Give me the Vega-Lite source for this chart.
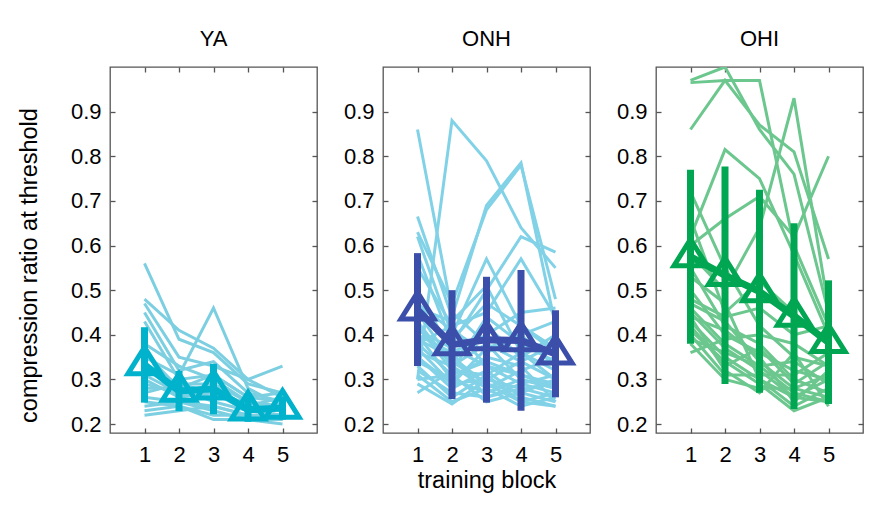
{
"$schema":"https://vega.github.io/schema/vega-lite/v6.json",
"background":"white",
"padding":{"left":16,"top":27,"right":5,"bottom":5},
"config":{
 "view":{"stroke":"#555","strokeWidth":1.3},
 "font":"Liberation Sans",
 "axis":{"labelFont":"Liberation Sans","labelFontSize":22,"labelColor":"black","tickColor":"#555","tickWidth":1.3,"domain":false,"grid":false,"titleFont":"Liberation Sans","titleFontSize":23.5,"titleFontWeight":"normal","titleColor":"black"},
 "title":{"font":"Liberation Sans","fontSize":22,"fontWeight":"normal","color":"black","offset":15}
},
"datasets":{
"indiv":[
{"g":"YA","s":1,"b":1,"r":0.56},{"g":"YA","s":1,"b":2,"r":0.39},{"g":"YA","s":1,"b":3,"r":0.36},{"g":"YA","s":1,"b":4,"r":0.29},{"g":"YA","s":1,"b":5,"r":0.27},
{"g":"YA","s":2,"b":1,"r":0.48},{"g":"YA","s":2,"b":2,"r":0.41},{"g":"YA","s":2,"b":3,"r":0.37},{"g":"YA","s":2,"b":4,"r":0.30},{"g":"YA","s":2,"b":5,"r":0.26},
{"g":"YA","s":3,"b":1,"r":0.47},{"g":"YA","s":3,"b":2,"r":0.35},{"g":"YA","s":3,"b":3,"r":0.33},{"g":"YA","s":3,"b":4,"r":0.30},{"g":"YA","s":3,"b":5,"r":0.33},
{"g":"YA","s":4,"b":1,"r":0.45},{"g":"YA","s":4,"b":2,"r":0.32},{"g":"YA","s":4,"b":3,"r":0.34},{"g":"YA","s":4,"b":4,"r":0.27},{"g":"YA","s":4,"b":5,"r":0.25},
{"g":"YA","s":5,"b":1,"r":0.43},{"g":"YA","s":5,"b":2,"r":0.30},{"g":"YA","s":5,"b":3,"r":0.31},{"g":"YA","s":5,"b":4,"r":0.26},{"g":"YA","s":5,"b":5,"r":0.27},
{"g":"YA","s":6,"b":1,"r":0.38},{"g":"YA","s":6,"b":2,"r":0.33},{"g":"YA","s":6,"b":3,"r":0.30},{"g":"YA","s":6,"b":4,"r":0.25},{"g":"YA","s":6,"b":5,"r":0.24},
{"g":"YA","s":7,"b":1,"r":0.35},{"g":"YA","s":7,"b":2,"r":0.31},{"g":"YA","s":7,"b":3,"r":0.46},{"g":"YA","s":7,"b":4,"r":0.28},{"g":"YA","s":7,"b":5,"r":0.24},
{"g":"YA","s":8,"b":1,"r":0.33},{"g":"YA","s":8,"b":2,"r":0.29},{"g":"YA","s":8,"b":3,"r":0.29},{"g":"YA","s":8,"b":4,"r":0.25},{"g":"YA","s":8,"b":5,"r":0.23},
{"g":"YA","s":9,"b":1,"r":0.31},{"g":"YA","s":9,"b":2,"r":0.27},{"g":"YA","s":9,"b":3,"r":0.28},{"g":"YA","s":9,"b":4,"r":0.24},{"g":"YA","s":9,"b":5,"r":0.23},
{"g":"YA","s":10,"b":1,"r":0.30},{"g":"YA","s":10,"b":2,"r":0.26},{"g":"YA","s":10,"b":3,"r":0.27},{"g":"YA","s":10,"b":4,"r":0.23},{"g":"YA","s":10,"b":5,"r":0.22},
{"g":"YA","s":11,"b":1,"r":0.28},{"g":"YA","s":11,"b":2,"r":0.28},{"g":"YA","s":11,"b":3,"r":0.25},{"g":"YA","s":11,"b":4,"r":0.23},{"g":"YA","s":11,"b":5,"r":0.22},
{"g":"YA","s":12,"b":1,"r":0.26},{"g":"YA","s":12,"b":2,"r":0.25},{"g":"YA","s":12,"b":3,"r":0.24},{"g":"YA","s":12,"b":4,"r":0.22},{"g":"YA","s":12,"b":5,"r":0.21},
{"g":"YA","s":13,"b":1,"r":0.25},{"g":"YA","s":13,"b":2,"r":0.24},{"g":"YA","s":13,"b":3,"r":0.22},{"g":"YA","s":13,"b":4,"r":0.22},{"g":"YA","s":13,"b":5,"r":0.21},
{"g":"YA","s":14,"b":1,"r":0.24},{"g":"YA","s":14,"b":2,"r":0.25},{"g":"YA","s":14,"b":3,"r":0.23},{"g":"YA","s":14,"b":4,"r":0.21},{"g":"YA","s":14,"b":5,"r":0.21},
{"g":"YA","s":15,"b":1,"r":0.23},{"g":"YA","s":15,"b":2,"r":0.24},{"g":"YA","s":15,"b":3,"r":0.21},{"g":"YA","s":15,"b":4,"r":0.21},{"g":"YA","s":15,"b":5,"r":0.20},
{"g":"YA","s":16,"b":1,"r":0.22},{"g":"YA","s":16,"b":2,"r":0.23},{"g":"YA","s":16,"b":3,"r":0.24},{"g":"YA","s":16,"b":4,"r":0.22},{"g":"YA","s":16,"b":5,"r":0.22},
{"g":"YA","s":17,"b":1,"r":0.36},{"g":"YA","s":17,"b":2,"r":0.28},{"g":"YA","s":17,"b":3,"r":0.31},{"g":"YA","s":17,"b":4,"r":0.26},{"g":"YA","s":17,"b":5,"r":0.25},
{"g":"YA","s":18,"b":1,"r":0.34},{"g":"YA","s":18,"b":2,"r":0.26},{"g":"YA","s":18,"b":3,"r":0.28},{"g":"YA","s":18,"b":4,"r":0.24},{"g":"YA","s":18,"b":5,"r":0.26},
{"g":"YA","s":19,"b":1,"r":0.29},{"g":"YA","s":19,"b":2,"r":0.27},{"g":"YA","s":19,"b":3,"r":0.26},{"g":"YA","s":19,"b":4,"r":0.25},{"g":"YA","s":19,"b":5,"r":0.23},
{"g":"YA","s":20,"b":1,"r":0.27},{"g":"YA","s":20,"b":2,"r":0.29},{"g":"YA","s":20,"b":3,"r":0.27},{"g":"YA","s":20,"b":4,"r":0.23},{"g":"YA","s":20,"b":5,"r":0.24},
{"g":"ONH","s":1,"b":1,"r":0.86},{"g":"ONH","s":1,"b":2,"r":0.45},{"g":"ONH","s":1,"b":3,"r":0.38},{"g":"ONH","s":1,"b":4,"r":0.34},{"g":"ONH","s":1,"b":5,"r":0.30},
{"g":"ONH","s":2,"b":1,"r":0.30},{"g":"ONH","s":2,"b":2,"r":0.88},{"g":"ONH","s":2,"b":3,"r":0.79},{"g":"ONH","s":2,"b":4,"r":0.64},{"g":"ONH","s":2,"b":5,"r":0.55},
{"g":"ONH","s":3,"b":1,"r":0.665},{"g":"ONH","s":3,"b":2,"r":0.44},{"g":"ONH","s":3,"b":3,"r":0.69},{"g":"ONH","s":3,"b":4,"r":0.785},{"g":"ONH","s":3,"b":5,"r":0.42},
{"g":"ONH","s":4,"b":1,"r":0.63},{"g":"ONH","s":4,"b":2,"r":0.47},{"g":"ONH","s":4,"b":3,"r":0.68},{"g":"ONH","s":4,"b":4,"r":0.78},{"g":"ONH","s":4,"b":5,"r":0.48},
{"g":"ONH","s":5,"b":1,"r":0.62},{"g":"ONH","s":5,"b":2,"r":0.40},{"g":"ONH","s":5,"b":3,"r":0.57},{"g":"ONH","s":5,"b":4,"r":0.42},{"g":"ONH","s":5,"b":5,"r":0.36},
{"g":"ONH","s":6,"b":1,"r":0.58},{"g":"ONH","s":6,"b":2,"r":0.38},{"g":"ONH","s":6,"b":3,"r":0.50},{"g":"ONH","s":6,"b":4,"r":0.62},{"g":"ONH","s":6,"b":5,"r":0.585},
{"g":"ONH","s":7,"b":1,"r":0.55},{"g":"ONH","s":7,"b":2,"r":0.42},{"g":"ONH","s":7,"b":3,"r":0.45},{"g":"ONH","s":7,"b":4,"r":0.57},{"g":"ONH","s":7,"b":5,"r":0.44},
{"g":"ONH","s":8,"b":1,"r":0.50},{"g":"ONH","s":8,"b":2,"r":0.36},{"g":"ONH","s":8,"b":3,"r":0.40},{"g":"ONH","s":8,"b":4,"r":0.45},{"g":"ONH","s":8,"b":5,"r":0.46},
{"g":"ONH","s":9,"b":1,"r":0.47},{"g":"ONH","s":9,"b":2,"r":0.41},{"g":"ONH","s":9,"b":3,"r":0.36},{"g":"ONH","s":9,"b":4,"r":0.40},{"g":"ONH","s":9,"b":5,"r":0.33},
{"g":"ONH","s":10,"b":1,"r":0.45},{"g":"ONH","s":10,"b":2,"r":0.34},{"g":"ONH","s":10,"b":3,"r":0.42},{"g":"ONH","s":10,"b":4,"r":0.35},{"g":"ONH","s":10,"b":5,"r":0.40},
{"g":"ONH","s":11,"b":1,"r":0.43},{"g":"ONH","s":11,"b":2,"r":0.33},{"g":"ONH","s":11,"b":3,"r":0.38},{"g":"ONH","s":11,"b":4,"r":0.30},{"g":"ONH","s":11,"b":5,"r":0.28},
{"g":"ONH","s":12,"b":1,"r":0.42},{"g":"ONH","s":12,"b":2,"r":0.32},{"g":"ONH","s":12,"b":3,"r":0.31},{"g":"ONH","s":12,"b":4,"r":0.36},{"g":"ONH","s":12,"b":5,"r":0.30},
{"g":"ONH","s":13,"b":1,"r":0.41},{"g":"ONH","s":13,"b":2,"r":0.37},{"g":"ONH","s":13,"b":3,"r":0.33},{"g":"ONH","s":13,"b":4,"r":0.29},{"g":"ONH","s":13,"b":5,"r":0.27},
{"g":"ONH","s":14,"b":1,"r":0.40},{"g":"ONH","s":14,"b":2,"r":0.30},{"g":"ONH","s":14,"b":3,"r":0.35},{"g":"ONH","s":14,"b":4,"r":0.33},{"g":"ONH","s":14,"b":5,"r":0.25},
{"g":"ONH","s":15,"b":1,"r":0.39},{"g":"ONH","s":15,"b":2,"r":0.35},{"g":"ONH","s":15,"b":3,"r":0.29},{"g":"ONH","s":15,"b":4,"r":0.27},{"g":"ONH","s":15,"b":5,"r":0.30},
{"g":"ONH","s":16,"b":1,"r":0.38},{"g":"ONH","s":16,"b":2,"r":0.31},{"g":"ONH","s":16,"b":3,"r":0.34},{"g":"ONH","s":16,"b":4,"r":0.31},{"g":"ONH","s":16,"b":5,"r":0.29},
{"g":"ONH","s":17,"b":1,"r":0.37},{"g":"ONH","s":17,"b":2,"r":0.29},{"g":"ONH","s":17,"b":3,"r":0.30},{"g":"ONH","s":17,"b":4,"r":0.28},{"g":"ONH","s":17,"b":5,"r":0.26},
{"g":"ONH","s":18,"b":1,"r":0.36},{"g":"ONH","s":18,"b":2,"r":0.33},{"g":"ONH","s":18,"b":3,"r":0.28},{"g":"ONH","s":18,"b":4,"r":0.32},{"g":"ONH","s":18,"b":5,"r":0.35},
{"g":"ONH","s":19,"b":1,"r":0.35},{"g":"ONH","s":19,"b":2,"r":0.28},{"g":"ONH","s":19,"b":3,"r":0.32},{"g":"ONH","s":19,"b":4,"r":0.26},{"g":"ONH","s":19,"b":5,"r":0.24},
{"g":"ONH","s":20,"b":1,"r":0.34},{"g":"ONH","s":20,"b":2,"r":0.30},{"g":"ONH","s":20,"b":3,"r":0.27},{"g":"ONH","s":20,"b":4,"r":0.30},{"g":"ONH","s":20,"b":5,"r":0.28},
{"g":"ONH","s":21,"b":1,"r":0.33},{"g":"ONH","s":21,"b":2,"r":0.26},{"g":"ONH","s":21,"b":3,"r":0.31},{"g":"ONH","s":21,"b":4,"r":0.25},{"g":"ONH","s":21,"b":5,"r":0.27},
{"g":"ONH","s":22,"b":1,"r":0.32},{"g":"ONH","s":22,"b":2,"r":0.27},{"g":"ONH","s":22,"b":3,"r":0.26},{"g":"ONH","s":22,"b":4,"r":0.29},{"g":"ONH","s":22,"b":5,"r":0.31},
{"g":"ONH","s":23,"b":1,"r":0.31},{"g":"ONH","s":23,"b":2,"r":0.25},{"g":"ONH","s":23,"b":3,"r":0.28},{"g":"ONH","s":23,"b":4,"r":0.24},{"g":"ONH","s":23,"b":5,"r":0.26},
{"g":"ONH","s":24,"b":1,"r":0.30},{"g":"ONH","s":24,"b":2,"r":0.31},{"g":"ONH","s":24,"b":3,"r":0.25},{"g":"ONH","s":24,"b":4,"r":0.27},{"g":"ONH","s":24,"b":5,"r":0.25},
{"g":"ONH","s":25,"b":1,"r":0.29},{"g":"ONH","s":25,"b":2,"r":0.245},{"g":"ONH","s":25,"b":3,"r":0.30},{"g":"ONH","s":25,"b":4,"r":0.34},{"g":"ONH","s":25,"b":5,"r":0.38},
{"g":"ONH","s":26,"b":1,"r":0.27},{"g":"ONH","s":26,"b":2,"r":0.32},{"g":"ONH","s":26,"b":3,"r":0.44},{"g":"ONH","s":26,"b":4,"r":0.38},{"g":"ONH","s":26,"b":5,"r":0.34},
{"g":"ONH","s":27,"b":1,"r":0.44},{"g":"ONH","s":27,"b":2,"r":0.39},{"g":"ONH","s":27,"b":3,"r":0.47},{"g":"ONH","s":27,"b":4,"r":0.42},{"g":"ONH","s":27,"b":5,"r":0.37},
{"g":"ONH","s":28,"b":1,"r":0.46},{"g":"ONH","s":28,"b":2,"r":0.43},{"g":"ONH","s":28,"b":3,"r":0.51},{"g":"ONH","s":28,"b":4,"r":0.36},{"g":"ONH","s":28,"b":5,"r":0.32},
{"g":"ONH","s":29,"b":1,"r":0.40},{"g":"ONH","s":29,"b":2,"r":0.36},{"g":"ONH","s":29,"b":3,"r":0.26},{"g":"ONH","s":29,"b":4,"r":0.28},{"g":"ONH","s":29,"b":5,"r":0.29},
{"g":"ONH","s":30,"b":1,"r":0.35},{"g":"ONH","s":30,"b":2,"r":0.29},{"g":"ONH","s":30,"b":3,"r":0.37},{"g":"ONH","s":30,"b":4,"r":0.40},{"g":"ONH","s":30,"b":5,"r":0.43},
{"g":"ONH","s":31,"b":1,"r":0.42},{"g":"ONH","s":31,"b":2,"r":0.34},{"g":"ONH","s":31,"b":3,"r":0.29},{"g":"ONH","s":31,"b":4,"r":0.25},{"g":"ONH","s":31,"b":5,"r":0.24},
{"g":"ONH","s":32,"b":1,"r":0.38},{"g":"ONH","s":32,"b":2,"r":0.42},{"g":"ONH","s":32,"b":3,"r":0.33},{"g":"ONH","s":32,"b":4,"r":0.31},{"g":"ONH","s":32,"b":5,"r":0.28},
{"g":"OHI","s":1,"b":1,"r":0.97},{"g":"OHI","s":1,"b":2,"r":1.0},{"g":"OHI","s":1,"b":3,"r":0.86},{"g":"OHI","s":1,"b":4,"r":0.76},{"g":"OHI","s":1,"b":5,"r":0.45},
{"g":"OHI","s":2,"b":1,"r":0.965},{"g":"OHI","s":2,"b":2,"r":0.97},{"g":"OHI","s":2,"b":3,"r":0.97},{"g":"OHI","s":2,"b":4,"r":0.60},{"g":"OHI","s":2,"b":5,"r":0.42},
{"g":"OHI","s":3,"b":1,"r":0.86},{"g":"OHI","s":3,"b":2,"r":0.97},{"g":"OHI","s":3,"b":3,"r":0.87},{"g":"OHI","s":3,"b":4,"r":0.81},{"g":"OHI","s":3,"b":5,"r":0.57},
{"g":"OHI","s":4,"b":1,"r":0.62},{"g":"OHI","s":4,"b":2,"r":0.815},{"g":"OHI","s":4,"b":3,"r":0.75},{"g":"OHI","s":4,"b":4,"r":0.58},{"g":"OHI","s":4,"b":5,"r":0.40},
{"g":"OHI","s":5,"b":1,"r":0.60},{"g":"OHI","s":5,"b":2,"r":0.66},{"g":"OHI","s":5,"b":3,"r":0.71},{"g":"OHI","s":5,"b":4,"r":0.62},{"g":"OHI","s":5,"b":5,"r":0.80},
{"g":"OHI","s":6,"b":1,"r":0.58},{"g":"OHI","s":6,"b":2,"r":0.50},{"g":"OHI","s":6,"b":3,"r":0.64},{"g":"OHI","s":6,"b":4,"r":0.93},{"g":"OHI","s":6,"b":5,"r":0.46},
{"g":"OHI","s":7,"b":1,"r":0.72},{"g":"OHI","s":7,"b":2,"r":0.55},{"g":"OHI","s":7,"b":3,"r":0.42},{"g":"OHI","s":7,"b":4,"r":0.35},{"g":"OHI","s":7,"b":5,"r":0.33},
{"g":"OHI","s":8,"b":1,"r":0.66},{"g":"OHI","s":8,"b":2,"r":0.45},{"g":"OHI","s":8,"b":3,"r":0.52},{"g":"OHI","s":8,"b":4,"r":0.45},{"g":"OHI","s":8,"b":5,"r":0.38},
{"g":"OHI","s":9,"b":1,"r":0.55},{"g":"OHI","s":9,"b":2,"r":0.42},{"g":"OHI","s":9,"b":3,"r":0.38},{"g":"OHI","s":9,"b":4,"r":0.30},{"g":"OHI","s":9,"b":5,"r":0.27},
{"g":"OHI","s":10,"b":1,"r":0.50},{"g":"OHI","s":10,"b":2,"r":0.40},{"g":"OHI","s":10,"b":3,"r":0.36},{"g":"OHI","s":10,"b":4,"r":0.32},{"g":"OHI","s":10,"b":5,"r":0.30},
{"g":"OHI","s":11,"b":1,"r":0.47},{"g":"OHI","s":11,"b":2,"r":0.43},{"g":"OHI","s":11,"b":3,"r":0.34},{"g":"OHI","s":11,"b":4,"r":0.28},{"g":"OHI","s":11,"b":5,"r":0.26},
{"g":"OHI","s":12,"b":1,"r":0.46},{"g":"OHI","s":12,"b":2,"r":0.38},{"g":"OHI","s":12,"b":3,"r":0.33},{"g":"OHI","s":12,"b":4,"r":0.27},{"g":"OHI","s":12,"b":5,"r":0.25},
{"g":"OHI","s":13,"b":1,"r":0.45},{"g":"OHI","s":13,"b":2,"r":0.37},{"g":"OHI","s":13,"b":3,"r":0.32},{"g":"OHI","s":13,"b":4,"r":0.26},{"g":"OHI","s":13,"b":5,"r":0.30},
{"g":"OHI","s":14,"b":1,"r":0.44},{"g":"OHI","s":14,"b":2,"r":0.41},{"g":"OHI","s":14,"b":3,"r":0.35},{"g":"OHI","s":14,"b":4,"r":0.25},{"g":"OHI","s":14,"b":5,"r":0.32},
{"g":"OHI","s":15,"b":1,"r":0.43},{"g":"OHI","s":15,"b":2,"r":0.35},{"g":"OHI","s":15,"b":3,"r":0.30},{"g":"OHI","s":15,"b":4,"r":0.24},{"g":"OHI","s":15,"b":5,"r":0.28},
{"g":"OHI","s":16,"b":1,"r":0.42},{"g":"OHI","s":16,"b":2,"r":0.33},{"g":"OHI","s":16,"b":3,"r":0.37},{"g":"OHI","s":16,"b":4,"r":0.29},{"g":"OHI","s":16,"b":5,"r":0.34},
{"g":"OHI","s":17,"b":1,"r":0.41},{"g":"OHI","s":17,"b":2,"r":0.34},{"g":"OHI","s":17,"b":3,"r":0.29},{"g":"OHI","s":17,"b":4,"r":0.23},{"g":"OHI","s":17,"b":5,"r":0.26},
{"g":"OHI","s":18,"b":1,"r":0.40},{"g":"OHI","s":18,"b":2,"r":0.31},{"g":"OHI","s":18,"b":3,"r":0.31},{"g":"OHI","s":18,"b":4,"r":0.31},{"g":"OHI","s":18,"b":5,"r":0.36},
{"g":"OHI","s":19,"b":1,"r":0.39},{"g":"OHI","s":19,"b":2,"r":0.36},{"g":"OHI","s":19,"b":3,"r":0.33},{"g":"OHI","s":19,"b":4,"r":0.34},{"g":"OHI","s":19,"b":5,"r":0.29},
{"g":"OHI","s":20,"b":1,"r":0.38},{"g":"OHI","s":20,"b":2,"r":0.30},{"g":"OHI","s":20,"b":3,"r":0.28},{"g":"OHI","s":20,"b":4,"r":0.28},{"g":"OHI","s":20,"b":5,"r":0.31},
{"g":"OHI","s":21,"b":1,"r":0.36},{"g":"OHI","s":21,"b":2,"r":0.39},{"g":"OHI","s":21,"b":3,"r":0.40},{"g":"OHI","s":21,"b":4,"r":0.38},{"g":"OHI","s":21,"b":5,"r":0.33},
{"g":"OHI","s":22,"b":1,"r":0.44},{"g":"OHI","s":22,"b":2,"r":0.32},{"g":"OHI","s":22,"b":3,"r":0.27},{"g":"OHI","s":22,"b":4,"r":0.36},{"g":"OHI","s":22,"b":5,"r":0.24},
{"g":"OHI","s":23,"b":1,"r":0.48},{"g":"OHI","s":23,"b":2,"r":0.44},{"g":"OHI","s":23,"b":3,"r":0.46},{"g":"OHI","s":23,"b":4,"r":0.40},{"g":"OHI","s":23,"b":5,"r":0.42},
{"g":"OHI","s":24,"b":1,"r":0.53},{"g":"OHI","s":24,"b":2,"r":0.47},{"g":"OHI","s":24,"b":3,"r":0.30},{"g":"OHI","s":24,"b":4,"r":0.26},{"g":"OHI","s":24,"b":5,"r":0.25}
],
"means":[
{"g":"YA","b":1,"m":0.333,"lo":0.248,"hi":0.417},{"g":"YA","b":2,"m":0.274,"lo":0.229,"hi":0.319},{"g":"YA","b":3,"m":0.279,"lo":0.222,"hi":0.335},{"g":"YA","b":4,"m":0.232,"lo":0.205,"hi":0.26},{"g":"YA","b":5,"m":0.236,"lo":0.21,"hi":0.262},
{"g":"ONH","b":1,"m":0.456,"lo":0.33,"hi":0.583},{"g":"ONH","b":2,"m":0.378,"lo":0.256,"hi":0.5},{"g":"ONH","b":3,"m":0.389,"lo":0.248,"hi":0.53},{"g":"ONH","b":4,"m":0.387,"lo":0.23,"hi":0.545},{"g":"ONH","b":5,"m":0.357,"lo":0.26,"hi":0.455},
{"g":"OHI","b":1,"m":0.575,"lo":0.38,"hi":0.77},{"g":"OHI","b":2,"m":0.533,"lo":0.29,"hi":0.777},{"g":"OHI","b":3,"m":0.497,"lo":0.27,"hi":0.725},{"g":"OHI","b":4,"m":0.442,"lo":0.234,"hi":0.65},{"g":"OHI","b":5,"m":0.383,"lo":0.245,"hi":0.522}
]
},
"hconcat":[
{
 "width":207,"height":366,
 "title":"YA",
 "resolve":{"axis":{"x":"independent","y":"independent"}},
 "layer":[
  {"data":{"name":"indiv"},"transform":[{"filter":"datum.g==='YA'"}],
   "mark":{"type":"line","strokeWidth":3,"color":"#7ccfe1"},
   "encoding":{
    "x":{"field":"b","type":"quantitative","scale":{"domain":[0,6],"nice":false},"axis":{"orient":"bottom","values":[1,2,3,4,5],"format":"d","tickSize":-5,"labelPadding":16,"title":null}},
    "y":{"field":"r","type":"quantitative","scale":{"domain":[0.18,1],"nice":false,"zero":false},"axis":{"orient":"left","values":[0.2,0.3,0.4,0.5,0.6,0.7,0.8,0.9],"format":".1f","tickSize":-5,"labelPadding":14,"title":"compression ratio at threshold","titlePadding":29,"titleY":198}},
    "detail":{"field":"s"}}},
  {"data":{"name":"means"},"transform":[{"filter":"datum.g==='YA'"}],
   "mark":{"type":"line","strokeWidth":7,"color":"#00b2cb"},
   "encoding":{"x":{"field":"b","type":"quantitative","axis":null},"y":{"field":"m","type":"quantitative","axis":null}}},
  {"data":{"name":"means"},"transform":[{"filter":"datum.g==='YA'"}],
   "mark":{"type":"rule","strokeWidth":7,"color":"#00b2cb"},
   "encoding":{"x":{"field":"b","type":"quantitative","axis":null},"y":{"field":"lo","type":"quantitative","axis":null},"y2":{"field":"hi"}}},
  {"data":{"name":"means"},"transform":[{"filter":"datum.g==='YA'"}],
   "mark":{"type":"point","shape":"M0,-1.05L1,0.55L-1,0.55Z","filled":false,"size":1100,"strokeWidth":5,"opacity":1,"color":"#00b2cb"},
   "encoding":{"x":{"field":"b","type":"quantitative","axis":{"orient":"top","values":[1,2,3,4,5],"labels":false,"tickSize":-5,"title":null}},"y":{"field":"m","type":"quantitative","axis":{"orient":"right","values":[0.2,0.3,0.4,0.5,0.6,0.7,0.8,0.9],"labels":false,"tickSize":-5,"title":null}}}}
 ]
},
{
 "width":207,"height":366,
 "title":"ONH",
 "resolve":{"axis":{"x":"independent","y":"independent"}},
 "layer":[
  {"data":{"name":"indiv"},"transform":[{"filter":"datum.g==='ONH'"}],
   "mark":{"type":"line","strokeWidth":3,"color":"#82d2e7"},
   "encoding":{
    "x":{"field":"b","type":"quantitative","scale":{"domain":[0,6],"nice":false},"axis":{"orient":"bottom","values":[1,2,3,4,5],"format":"d","tickSize":-5,"labelPadding":16,"title":"training block","titlePadding":3}},
    "y":{"field":"r","type":"quantitative","scale":{"domain":[0.18,1],"nice":false,"zero":false},"axis":{"orient":"left","values":[0.2,0.3,0.4,0.5,0.6,0.7,0.8,0.9],"format":".1f","tickSize":-5,"labelPadding":14,"title":null}},
    "detail":{"field":"s"}}},
  {"data":{"name":"means"},"transform":[{"filter":"datum.g==='ONH'"}],
   "mark":{"type":"line","strokeWidth":7,"color":"#3b4ea9"},
   "encoding":{"x":{"field":"b","type":"quantitative","axis":null},"y":{"field":"m","type":"quantitative","axis":null}}},
  {"data":{"name":"means"},"transform":[{"filter":"datum.g==='ONH'"}],
   "mark":{"type":"rule","strokeWidth":7,"color":"#3b4ea9"},
   "encoding":{"x":{"field":"b","type":"quantitative","axis":null},"y":{"field":"lo","type":"quantitative","axis":null},"y2":{"field":"hi"}}},
  {"data":{"name":"means"},"transform":[{"filter":"datum.g==='ONH'"}],
   "mark":{"type":"point","shape":"M0,-1.05L1,0.55L-1,0.55Z","filled":false,"size":1100,"strokeWidth":5,"opacity":1,"color":"#3b4ea9"},
   "encoding":{"x":{"field":"b","type":"quantitative","axis":{"orient":"top","values":[1,2,3,4,5],"labels":false,"tickSize":-5,"title":null}},"y":{"field":"m","type":"quantitative","axis":{"orient":"right","values":[0.2,0.3,0.4,0.5,0.6,0.7,0.8,0.9],"labels":false,"tickSize":-5,"title":null}}}}
 ]
},
{
 "width":207,"height":366,
 "title":"OHI",
 "resolve":{"axis":{"x":"independent","y":"independent"}},
 "layer":[
  {"data":{"name":"indiv"},"transform":[{"filter":"datum.g==='OHI'"}],
   "mark":{"type":"line","strokeWidth":3,"color":"#6cc78e","clip":true},
   "encoding":{
    "x":{"field":"b","type":"quantitative","scale":{"domain":[0,6],"nice":false},"axis":{"orient":"bottom","values":[1,2,3,4,5],"format":"d","tickSize":-5,"labelPadding":16,"title":null}},
    "y":{"field":"r","type":"quantitative","scale":{"domain":[0.18,1],"nice":false,"zero":false},"axis":{"orient":"left","values":[0.2,0.3,0.4,0.5,0.6,0.7,0.8,0.9],"format":".1f","tickSize":-5,"labelPadding":14,"title":null}},
    "detail":{"field":"s"}}},
  {"data":{"name":"means"},"transform":[{"filter":"datum.g==='OHI'"}],
   "mark":{"type":"line","strokeWidth":7,"color":"#00a651"},
   "encoding":{"x":{"field":"b","type":"quantitative","axis":null},"y":{"field":"m","type":"quantitative","axis":null}}},
  {"data":{"name":"means"},"transform":[{"filter":"datum.g==='OHI'"}],
   "mark":{"type":"rule","strokeWidth":7,"color":"#00a651"},
   "encoding":{"x":{"field":"b","type":"quantitative","axis":null},"y":{"field":"lo","type":"quantitative","axis":null},"y2":{"field":"hi"}}},
  {"data":{"name":"means"},"transform":[{"filter":"datum.g==='OHI'"}],
   "mark":{"type":"point","shape":"M0,-1.05L1,0.55L-1,0.55Z","filled":false,"size":1100,"strokeWidth":5,"opacity":1,"color":"#00a651"},
   "encoding":{"x":{"field":"b","type":"quantitative","axis":{"orient":"top","values":[1,2,3,4,5],"labels":false,"tickSize":-5,"title":null}},"y":{"field":"m","type":"quantitative","axis":{"orient":"right","values":[0.2,0.3,0.4,0.5,0.6,0.7,0.8,0.9],"labels":false,"tickSize":-5,"title":null}}}}
 ]
}
],
"spacing":66,
"bounds":"flush"
}
